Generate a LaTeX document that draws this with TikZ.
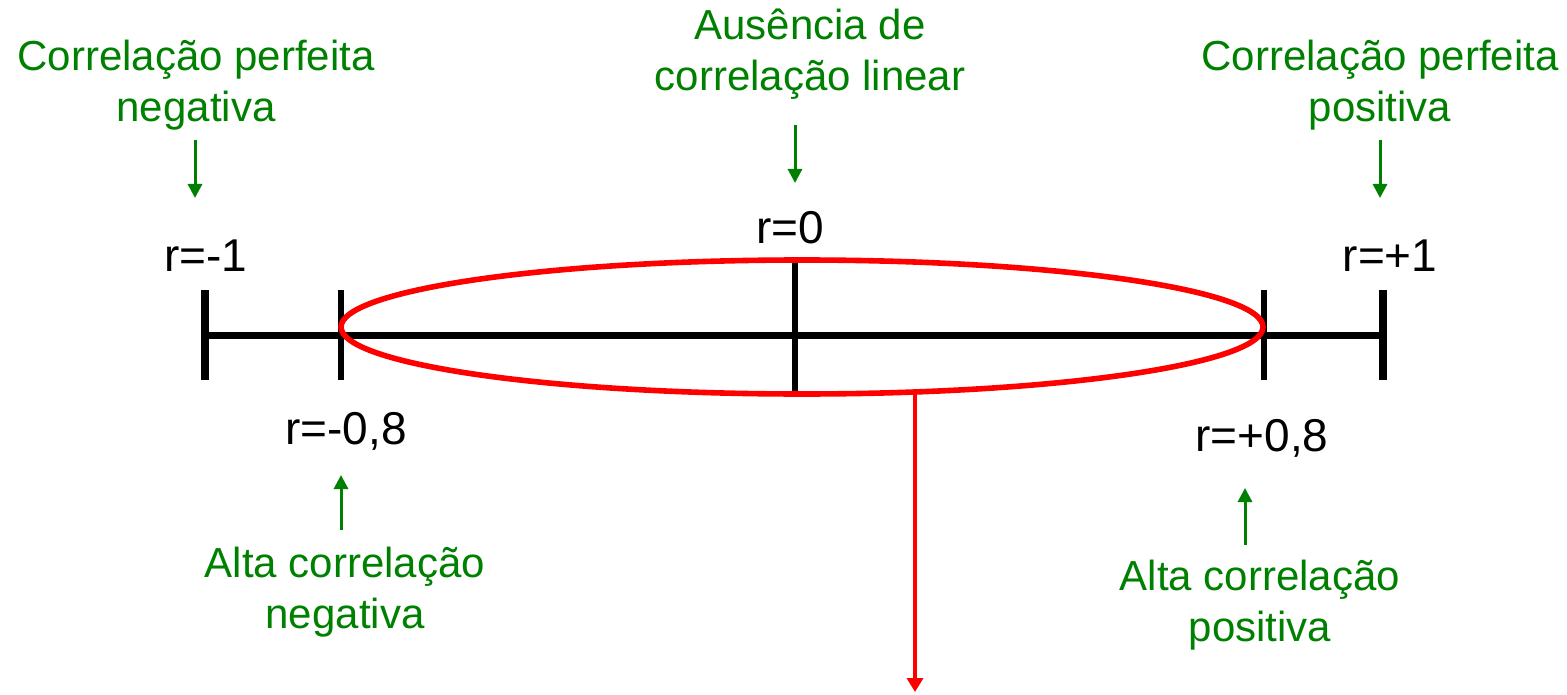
\documentclass[tikz,border=0pt]{standalone}
\usepackage{fontspec}
\setmainfont{Liberation Sans}
\usetikzlibrary{arrows.meta}
\definecolor{verde}{RGB}{0,128,0}
\begin{document}
\begin{tikzpicture}[x=.5pt,y=-.5pt,line width=3.5pt,
  rot/.style={font=\fontsize{23}{27}\selectfont,inner sep=0pt},
  leg/.style={text=verde,align=center,font=\fontsize{21}{25.5}\selectfont,inner sep=0pt},
  seta/.style={verde,line width=1.5pt,-{Triangle[length=7pt,width=7pt]}}]
\useasboundingbox (0,0) rectangle (1567,695);
\coordinate (A) at (205,335);
\coordinate (Z) at (1383,335);
\coordinate (a) at (341,335);
\coordinate (m) at (795,335);
\coordinate (z) at (1264,335);
\draw (A)--(Z);
\draw[line width=4pt] (205,290)--(205,380) (1383,290)--(1383,380);
\draw[line width=2.7pt] (341,290)--(341,380) (1264,290)--(1264,380) (795,262)--(795,393);
\draw[red,line width=2.8pt] (802,327) ellipse [x radius=461,y radius=67];
\coordinate (p) at (915,392);
\coordinate (q) at (915,692);
\draw[red,line width=2pt,-{Triangle[length=7pt,width=8pt]}] (p)--(q);
\node[rot] (rA) at (206,256) {r=-1};
\node[rot] (rZ) at (1390,256) {r=+1};
\node[rot] (rm) at (790,228) {r=0};
\node[rot] (ra) at (346,431) {r=-0,8};
\node[rot] (rz) at (1262,438) {r=+0,8};
\node[leg] (lA) at (196,85) {Correlação perfeita\\negativa};
\node[leg] (lm) at (810,54) {Ausência de\\correlação linear};
\node[leg] (lZ) at (1380,85) {Correlação perfeita\\positiva};
\node[leg] (la) at (345,592) {Alta correlação\\negativa};
\node[leg] (lz) at (1260,605) {Alta correlação\\positiva};
\coordinate (sA) at (195,140);
\coordinate (sm) at (795,125);
\coordinate (sZ) at (1380,140);
\coordinate (sa) at (341,530);
\coordinate (sz) at (1245,545);
\draw[seta] (sA)--(195,198);
\draw[seta] (sm)--(795,183);
\draw[seta] (sZ)--(1380,198);
\draw[seta] (sa)--(341,475);
\draw[seta] (sz)--(1245,488);
\end{tikzpicture}
\end{document}
